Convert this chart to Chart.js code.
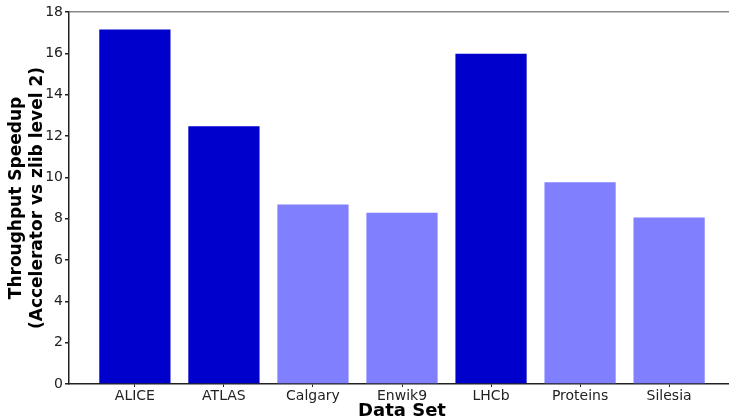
<!DOCTYPE html>
<html>
<head>
<meta charset="utf-8">
<script src="https://cdn.jsdelivr.net/npm/chart.js@4/dist/chart.umd.min.js"></script>
<style>
  html, body { margin: 0; padding: 0; overflow: hidden; background: #fff; }
  #wrap { width: 740px; height: 419px; }
</style>
</head>
<body>
<div id="wrap"><canvas id="mychart"></canvas></div>
<script>
const categories = ['ALICE', 'ATLAS', 'Calgary', 'Enwik9', 'LHCb', 'Proteins', 'Silesia'];
const speedup = [17.15, 12.47, 8.68, 8.29, 15.98, 9.76, 8.06];
const physicsSets = ['ALICE', 'ATLAS', 'LHCb'];
const yTicks = [0, 2, 4, 6, 8, 10, 12, 14, 16, 18];

const dark = '#0000cc';
const light = '#8080ff';

const ctx = document.getElementById('mychart')
var chart = new Chart(ctx, {
    type: 'bar',
    data: {
        datasets: [{
            data: categories.map((c, i) => ({ x: i, y: speedup[i] })),
            backgroundColor: categories.map(c => physicsSets.includes(c) ? dark : light),
            borderWidth: 0,
            categoryPercentage: 1,
            barPercentage: 0.8,
        }],
    },
    options: {
        responsive: true,
        maintainAspectRatio: false,
        animation: false,
        layout: {
            padding: { top: 12, right: 5, left: 0, bottom: 0 }
        },
        plugins: {
            legend: { display: false },
            tooltip: { enabled: false },
        },
        scales: {
            x: {
                type: 'linear',
                offset: false,
                min: -0.74,
                max: 6.74,
                afterBuildTicks: s => {
                    s.ticks = categories.map((c, i) => ({ value: i }));
                },
                afterFit: s => { s.height = 35; },
                grid: {
                    display: true,
                    offset: false,
                    drawOnChartArea: false,
                    tickLength: 3,
                    tickColor: '#222',
                },
                border: {
                    color: '#222',
                    width: 1.5,
                },
                ticks: {
                    padding: 1,
                    maxRotation: 0,
                    autoSkip: false,
                    color: '#222',
                    font: { family: 'DejaVu Sans', size: 14 },
                    callback: v => categories[v],
                },
                title: {
                    display: true,
                    text: 'Data Set',
                    color: '#000',
                    padding: 0,
                    font: { family: 'DejaVu Sans', size: 18, weight: 'bold', lineHeight: 0.85 },
                },
            },
            y: {
                min: 0,
                max: 18,
                afterBuildTicks: s => {
                    s.ticks = yTicks.map(v => ({ value: v }));
                },
                afterFit: s => { s.width = 69; },
                grid: {
                    color: c => c.tick && c.tick.value === 18 ? '#888' : 'rgba(0,0,0,0)',
                    lineWidth: 1.5,
                    tickLength: 4,
                    tickColor: '#222',
                },
                border: {
                    color: '#222',
                    width: 1.5,
                },
                ticks: {
                    padding: 2,
                    color: '#222',
                    font: { family: 'DejaVu Sans', size: 14 },
                },
                title: {
                    display: true,
                    text: ['Throughput Speedup', '(Accelerator vs zlib level 2)'],
                    color: '#000',
                    padding: { top: 7, bottom: 0 },
                    font: { family: 'DejaVu Sans', size: 17, weight: 'bold', lineHeight: 1.18 },
                },
            }
        },
    }
});
</script>
</body>
</html>
